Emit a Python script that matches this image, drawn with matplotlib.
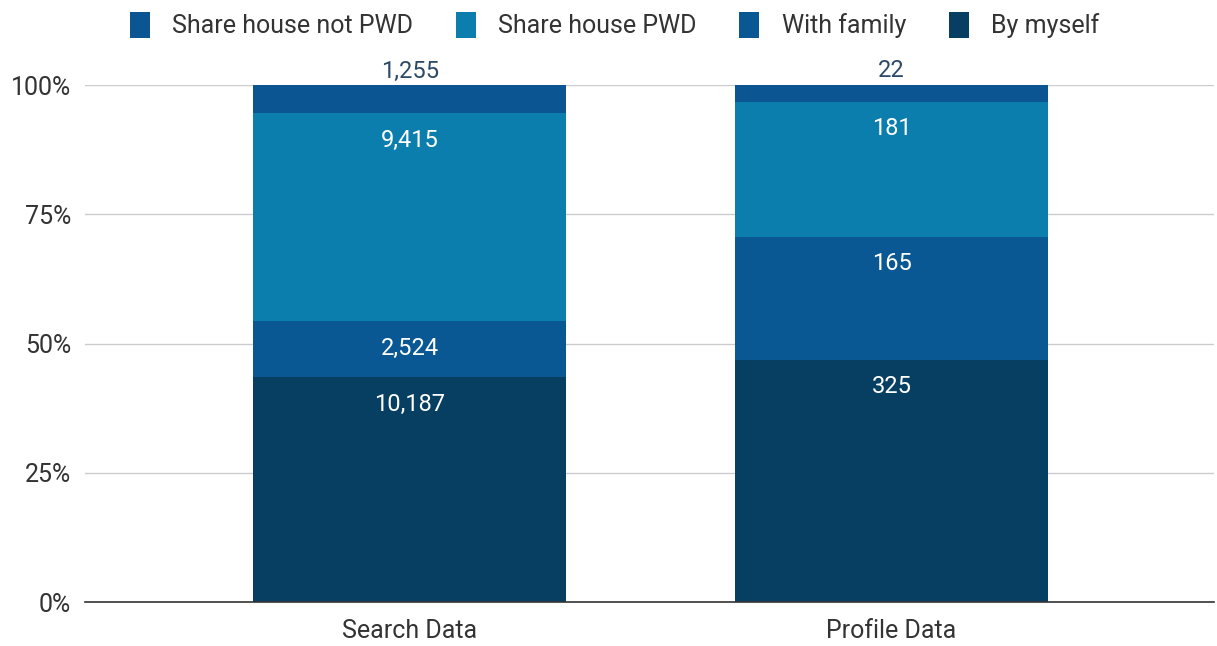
import matplotlib
matplotlib.use("Agg")
import matplotlib.pyplot as plt
import numpy as np
from matplotlib.patches import Patch

plt.rcParams['font.family'] = ['Roboto', 'DejaVu Sans']

categories = ["Search Data", "Profile Data"]
series_names = ["By myself", "With family", "Share house PWD", "Share house not PWD"]
by_myself = [10187, 325]
with_family = [2524, 165]
share_pwd = [9415, 181]
share_not_pwd = [1255, 22]
colors = {"By myself": "#073f63", "With family": "#0a5893",
          "Share house PWD": "#0b7eae", "Share house not PWD": "#0a5592"}

values = np.array([by_myself, with_family, share_pwd, share_not_pwd], dtype=float)
totals = values.sum(axis=0)
fracs = values / totals

fig = plt.figure(figsize=(12.17, 6.46), dpi=100)
ax = fig.add_axes([0.0698, 0.068, 0.928, 0.800])

x = np.arange(len(categories))
width = 0.65
bottom = np.zeros(len(categories))
for i, name in enumerate(series_names):
    ax.bar(x, fracs[i], width, bottom=bottom, color=colors[name], zorder=3)
    for j in range(len(categories)):
        top = bottom[j] + fracs[i][j]
        label = f"{int(values[i][j]):,}"
        if fracs[i][j] < 0.07:
            ax.annotate(label, (x[j], top), xytext=(0, 2), textcoords="offset points",
                        ha="center", va="bottom", fontsize=17, color="#2c4a66", zorder=4)
        else:
            ax.annotate(label, (x[j], top), xytext=(0, -19.5), textcoords="offset points",
                        ha="center", va="center", fontsize=17, color="white", zorder=4)
    bottom += fracs[i]

ax.set_xlim(-0.674, 1.67)
ax.set_ylim(0, 1)
ax.set_yticks([0, 0.25, 0.5, 0.75, 1.0])
ax.set_yticklabels(["0%", "25%", "50%", "75%", "100%"])
ax.set_xticks(x)
ax.set_xticklabels(categories)
ax.tick_params(axis="both", length=0, labelsize=18, colors="#333333")
ax.tick_params(axis="y", pad=10)
ax.tick_params(axis="x", pad=12)
ax.grid(axis="y", color="#cccccc", linewidth=1, zorder=0)
for s in ["top", "right", "left"]:
    ax.spines[s].set_visible(False)
ax.spines["bottom"].set_color("#333333")
ax.spines["bottom"].set_linewidth(1.2)
ax.spines["bottom"].set_zorder(5)

legend_order = ["Share house not PWD", "Share house PWD", "With family", "By myself"]
handles = [Patch(facecolor=colors[n], label=n) for n in legend_order]
fig.legend(handles=handles, loc="upper center", bbox_to_anchor=(0.505, 1.016), ncol=4,
           frameon=False, fontsize=18, handlelength=0.8, handleheight=1.2,
           columnspacing=1.7, handletextpad=0.9, labelcolor="#333333")

fig.savefig("out.png", dpi=100)
